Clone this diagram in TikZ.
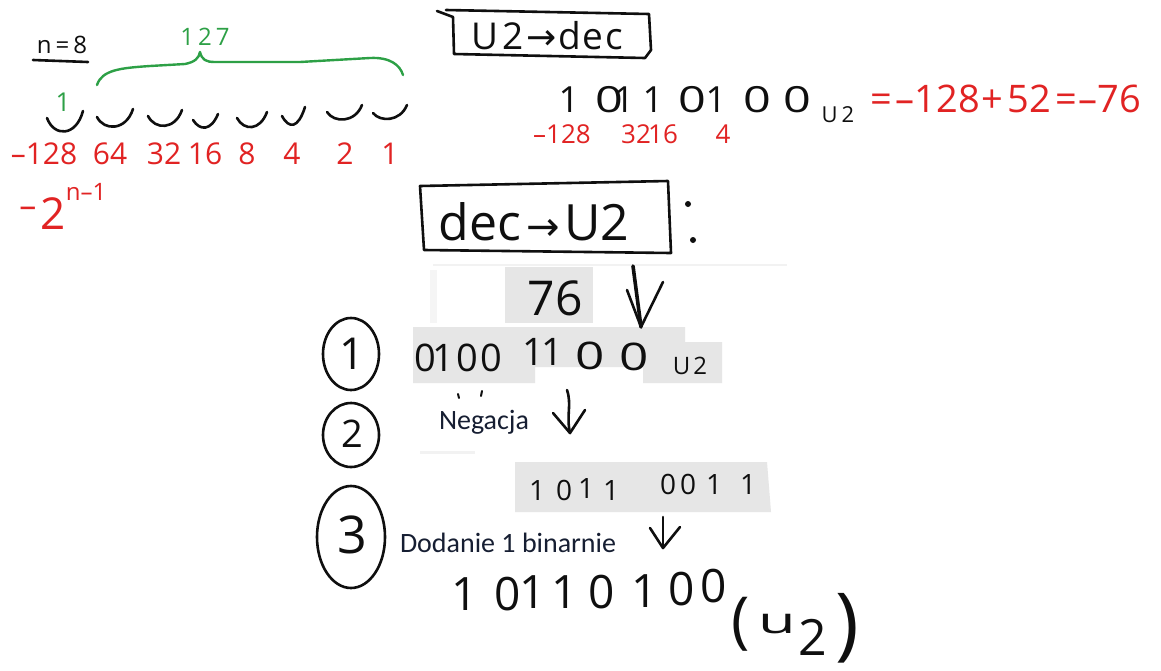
\documentclass[tikz,border=0pt]{standalone}
\usepackage{graphicx}
\usepackage{fontspec}
\setmainfont{Open Sans}
\newfontfamily\calib{Carlito}
\newfontfamily\arr{DejaVu Sans}
\definecolor{hred}{RGB}{225,35,35}
\definecolor{hgreen}{RGB}{45,160,70}
\definecolor{patch}{RGB}{230,230,230}
\definecolor{ink}{RGB}{15,15,15}
\definecolor{navy}{RGB}{22,30,50}
\newcommand\fs[1]{\fontsize{#1}{#1}\selectfont}
\newcommand\wz{\scalebox{1.35}[1]{0}}
\begin{document}
\begin{tikzpicture}[x=1pt,y=-1pt,
  txt/.style={inner sep=0pt,outer sep=0pt,text=ink},
  rtxt/.style={txt,text=hred},
  gtxt/.style={txt,text=hgreen},
  pen/.style={draw=ink,line width=2.6pt,line cap=round,line join=round},
  gpen/.style={draw=hgreen,line width=2.4pt,line cap=round,line join=round},
  patchfill/.style={fill=patch,draw=none},
  faint/.style={draw=gray!10,line width=3pt},
  lbl/.style={txt,text=navy,font=\calib\fs{28}},
  dot/.style={circle,fill=ink,inner sep=0pt,minimum size=6pt}]
\useasboundingbox (0,0) rectangle (1161,670);
\fill[white] (0,0) rectangle (1161,670);

% ---------- grey patches and faint marks ----------
\fill[patchfill] (505,267) rectangle (593,323);
\fill[gray!8] (430,270) rectangle (437,323);
\draw[faint,line width=1.5pt] (433,265) -- (787,265);
\fill[patchfill] (413,327) -- (685,327) -- (685,342) -- (722,342) -- (722,383) -- (643,383)
  -- (643,367) -- (535,367) -- (535,383) -- (413,383) -- cycle;
\draw[faint] (420,452) -- (475,452);
\fill[patchfill] (515,462) -- (767,462) -- (771,512) -- (515,512) -- cycle;

% ---------- top left: weights ----------
\node[txt,font=\fs{24}] (n8) at (62,45) {n\,=\,8};
\coordinate (ul1) at (33,60);
\coordinate (ul2) at (88,62);
\draw[pen] (ul1) -- (ul2);

\node[gtxt,font=\fs{24}] (g127) at (205,37) {1\,2\,7};
\draw[gpen] (97,85) .. controls (102,70) and (120,68) .. (150,66) -- (185,64)
  .. controls (195,62) and (199,58) .. (200,52) .. controls (202,60) and (206,62) .. (215,62)
  -- (300,62) -- (370,58) .. controls (390,57) and (400,65) .. (403,75);
\node[gtxt,font=\fs{26}] (g1) at (63,102) {1};

\foreach \a/\b/\ya/\yb/\yc in {47/83/118/111/137, 97/133/117/109/131, 148/182/116/110/130,
  193/218/120/114/131, 237/267/118/112/131, 282/305/116/107/129, 327/362/112/105/123,
  373/407/113/105/122}
  \draw[pen] (\a,\ya) .. controls (\a+7,\yc) and (\b-7,\yc) .. (\b,\yb);

\foreach \t/\x [count=\i] in {–128/44, 64/110, 32/164, 16/205, 8/247, 4/292, 2/345, 1/390}
  \node[rtxt,font=\fs{30}] (w\i) at (\x,154) {\t};

\node[rtxt,font=\fs{34}] (mm) at (28,212) {–};
\node[rtxt,font=\fs{44}] (two) at (53,214) {2};
\node[rtxt,font=\fs{24}] (exp) at (86,192) {n–1};

% ---------- U2 -> dec ----------
\node[txt,font=\fs{37}] (t1) at (547,36) {U\hspace{4pt}2\hspace{3pt}{\arr\fs{36}→}\hspace{2pt}d\hspace{1pt}e\hspace{2pt}c};
\draw[pen] (437,11) -- (453,17) -- (454,54) -- (645,58) -- (651,50) -- (649,14) -- (446,10);

\foreach \d/\x [count=\i] in {1/569,\wz/609,1/624,1/653,\wz/692,1/716,\wz/757,\wz/797}
  \node[txt,font=\fs{36}] (a\i) at (\x,100) {\d};
\node[txt,font=\fs{22}] (aU) at (838,115) {U\hspace{4pt}2};
\node[rtxt,font=\fs{38},anchor=west] (eq) at (870,99) {=\hspace{4pt}–128\hspace{2pt}+\hspace{4pt}52\hspace{4pt}=\hspace{2pt}–76};
\foreach \t/\x [count=\i] in {–128/562, 32/636, 16/663, 4/723}
  \node[rtxt,font=\fs{26}] (v\i) at (\x,134) {\t};

% ---------- dec -> U2 ----------
\node[txt,font=\fs{50}] (t2) at (534,222) {dec\hspace{5pt}{\arr\fs{40}→}\hspace{5pt}U2};
\draw[pen] (420,186) -- (668,181) -- (671,253) -- (424,250) -- cycle;
\node[dot] (c1) at (688,204) {};
\node[dot] (c2) at (693,240) {};

\node[txt,font=\fs{48}] (n76) at (555,298) {76};
\coordinate (ar1s) at (633,266);
\coordinate (ar1e) at (641,327);
\draw[pen,line width=3.6pt] (ar1s) -- (ar1e);
\draw[pen] (627,290) -- (ar1e) -- (663,282);

% step 1
\draw[pen] (351,354) ellipse [x radius=28, y radius=36];
\node[txt,font=\fs{44}] (s1) at (352,354) {1};
\foreach \d/\x/\y [count=\i] in {0/425/358,1/443/358,0/467/358,0/491/358,1/533/352,1/552/352,\wz/590/356,\wz/634/357}
  \node[txt,font=\fs{38}] (b\i) at (\x,\y) {\d};
\node[txt,font=\fs{24}] (bU) at (690,366) {U\hspace{3pt}2};
\draw[pen,line width=2pt] (458,394) -- (459,398);
\draw[pen,line width=2pt] (482,391) -- (481,396);

% step 2
\draw[pen] (351,435) ellipse [x radius=28, y radius=32];
\node[txt,font=\fs{38}] (s2) at (352,434) {2};
\node[lbl,anchor=base west] (neg) at (439,429) {Negacja};
\coordinate (ar2s) at (567,390);
\coordinate (ar2e) at (570,433);
\draw[pen] (ar2s) .. controls (572,405) and (566,415) .. (ar2e);
\draw[pen] (553,413) -- (ar2e) -- (585,410);

\foreach \d/\x/\y [count=\i] in {1/537/490,0/564/490,1/586/488,1/611/490,0/668/484,0/688/484,1/714/484,1/748/484}
  \node[txt,font=\fs{28}] (c\i) at (\x,\y) {\d};

% step 3
\draw[pen] (351,537) ellipse [x radius=34, y radius=51];
\node[txt,font=\fs{52}] (s3) at (352,535) {3};
\node[lbl,anchor=base west] (dod) at (400,552) {Dodanie 1 binarnie};
\coordinate (ar3s) at (663,517);
\coordinate (ar3e) at (663,548);
\draw[pen] (ar3s) -- (ar3e);
\draw[pen] (650,528) -- (ar3e) -- (680,527);

\foreach \d/\x/\y [count=\i] in {1/465/594,0/508/594,1/533/592,1/565/592,0/602/592,1/645/591,0/682/589,0/714/586}
  \node[txt,font=\fs{46}] (f\i) at (\x,\y) {\d};
\node[txt,font=\fs{62}] (lp) at (741,624) {(};
\node[txt,font=\fs{36}] (fu) at (777,624) {\scalebox{1.7}[1]{u}};
\node[txt,font=\fs{50}] (f2) at (813,637) {2};
\node[txt,font=\fs{80}] (rp) at (847,628) {)};
\end{tikzpicture}
\end{document}
